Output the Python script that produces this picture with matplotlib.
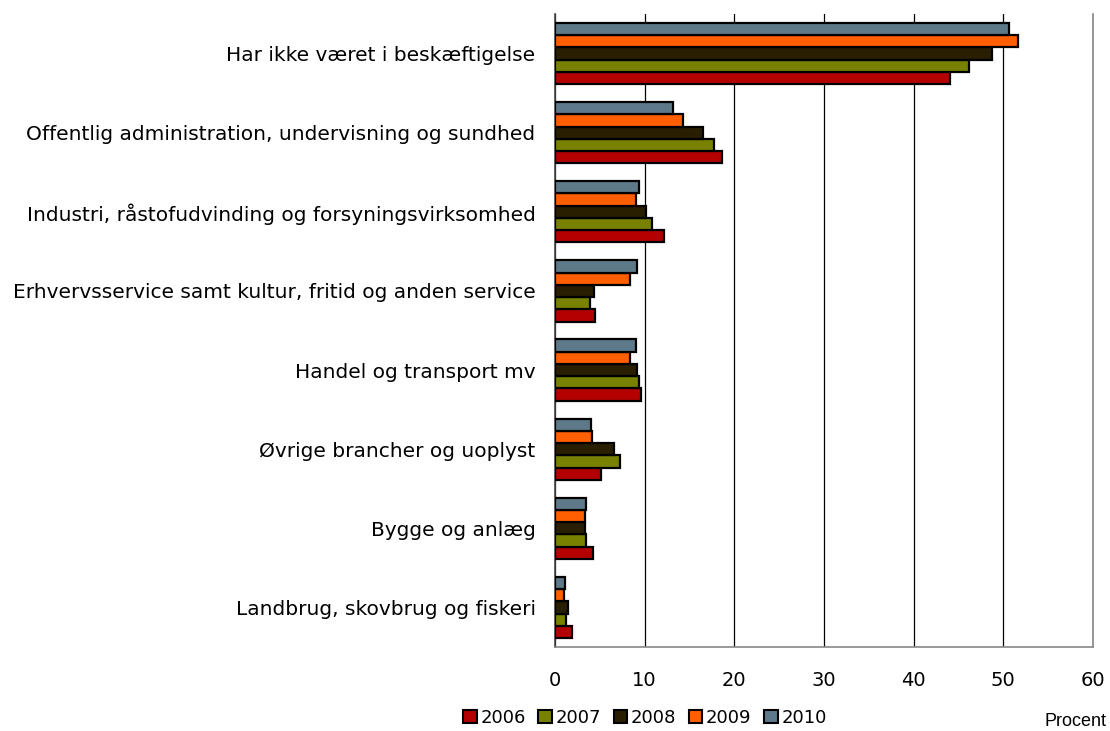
import matplotlib
matplotlib.use("Agg")
import matplotlib.pyplot as plt
import numpy as np
from matplotlib.patches import Patch

categories = [
    "Har ikke været i beskæftigelse",
    "Offentlig administration, undervisning og sundhed",
    "Industri, råstofudvinding og forsyningsvirksomhed",
    "Erhvervsservice samt kultur, fritid og anden service",
    "Handel og transport mv",
    "Øvrige brancher og uoplyst",
    "Bygge og anlæg",
    "Landbrug, skovbrug og fiskeri",
]
years = ["2006", "2007", "2008", "2009", "2010"]
v2006 = [44.1, 18.6, 12.2, 4.5, 9.6, 5.1, 4.2, 1.9]
v2007 = [46.2, 17.7, 10.8, 3.9, 9.4, 7.2, 3.5, 1.25]
v2008 = [48.7, 16.5, 10.1, 4.3, 9.1, 6.6, 3.4, 1.5]
v2009 = [51.6, 14.3, 9.0, 8.4, 8.4, 4.1, 3.3, 1.0]
v2010 = [50.6, 13.2, 9.4, 9.2, 9.0, 4.0, 3.5, 1.15]
series = [v2006, v2007, v2008, v2009, v2010]
colors = ["#B50000", "#788200", "#2A1E00", "#FF5F00", "#5E7A8A"]
xticks = [0, 10, 20, 30, 40, 50, 60]

W, H = 1110, 731
fig = plt.figure(figsize=(W / 100, H / 100), dpi=100)
left, right, top, bottom = 555, 1093, 14, 647
ax = fig.add_axes([left / W, 1 - bottom / H, (right - left) / W, (bottom - top) / H])

y = np.arange(len(categories))
h = 0.155
for i, (vals, c) in enumerate(zip(series, colors)):
    ax.barh(y + (2 - i) * h, vals, height=h, color=c, edgecolor="black",
            linewidth=1.6, zorder=3)

ax.set_ylim(len(categories) - 0.5, -0.5)
ax.set_xlim(0, 60)
ax.set_xticks(xticks)
ax.set_xticklabels([str(t) for t in xticks], fontsize=14, family="DejaVu Sans")
ax.set_yticks(y)
ax.set_yticklabels(categories, fontsize=14.5, family="DejaVu Sans")
ax.tick_params(axis="y", length=0, pad=14)
ax.tick_params(axis="x", length=0, pad=17)
ax.grid(axis="x", color="black", linewidth=0.9, zorder=0)
ax.spines["top"].set_visible(False)
ax.spines["right"].set_color("#888888")
ax.spines["right"].set_linewidth(1.2)
ax.spines["left"].set_color("#444444")
ax.spines["left"].set_linewidth(1.2)
ax.spines["bottom"].set_color("#888888")
ax.spines["bottom"].set_linewidth(1.2)

handles = [Patch(facecolor=c, edgecolor="black", linewidth=1.5, label=yr)
           for c, yr in zip(colors, years)]
fig.legend(handles=handles, loc="center", bbox_to_anchor=(645 / W, 1 - 718 / H),
           ncol=5, frameon=False, handlelength=0.75, handleheight=0.75,
           handletextpad=0.2, columnspacing=0.7,
           prop={"family": "DejaVu Sans", "size": 13})
fig.text(1107 / W, 1 - 721 / H, "Procent", ha="right", va="center",
         fontsize=13, family="Liberation Sans")

fig.savefig("out.png", dpi=100)
